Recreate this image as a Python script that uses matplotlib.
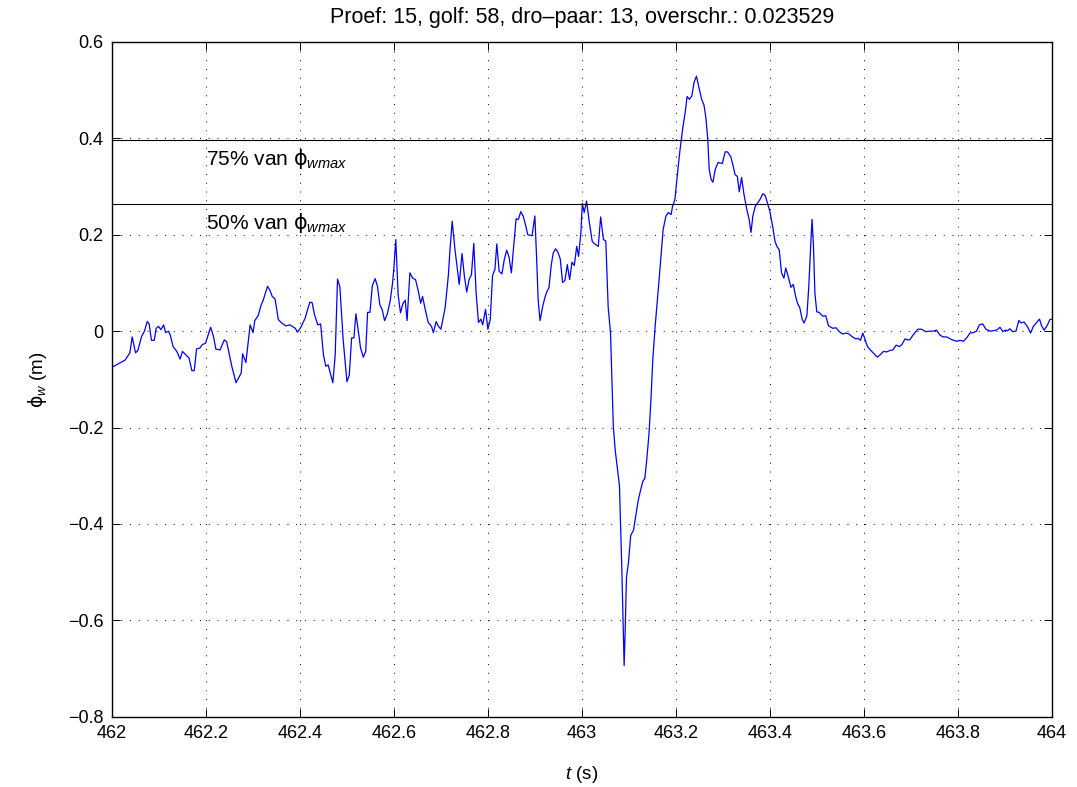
import matplotlib
matplotlib.use('Agg')
import matplotlib.pyplot as plt
import numpy as np

plt.rcParams['font.family'] = ['Liberation Sans', 'DejaVu Sans']
plt.rcParams['mathtext.fontset'] = 'custom'
plt.rcParams['mathtext.rm'] = 'Liberation Sans'
plt.rcParams['mathtext.it'] = 'Liberation Sans:italic'
plt.rcParams['mathtext.bf'] = 'Liberation Sans:bold'
plt.rcParams['mathtext.sf'] = 'DejaVu Sans'
plt.rcParams['mathtext.fallback'] = 'stixsans'
plt.rcParams['axes.unicode_minus'] = True

###########################################################
# measured signal phi_w (m) against time t (s)
t = [462.000, 462.017, 462.028, 462.038, 462.043, 462.050, 462.055, 462.063,
     462.069, 462.075, 462.079, 462.084, 462.090, 462.094, 462.099, 462.104,
     462.110, 462.114, 462.120, 462.124, 462.130, 462.138, 462.145, 462.150,
     462.157, 462.164, 462.170, 462.175, 462.180, 462.187, 462.192, 462.199,
     462.210, 462.216, 462.221, 462.230, 462.239, 462.244, 462.255, 462.264,
     462.275, 462.278, 462.285, 462.294, 462.300, 462.304, 462.311, 462.317,
     462.322, 462.331, 462.336, 462.341, 462.347, 462.354, 462.361, 462.370,
     462.379, 462.390, 462.395, 462.402, 462.411, 462.421, 462.426, 462.431,
     462.438, 462.444, 462.450, 462.455, 462.460, 462.470, 462.475, 462.480,
     462.485, 462.492, 462.500, 462.505, 462.510, 462.515, 462.519, 462.524,
     462.529, 462.535, 462.540, 462.544, 462.549, 462.554, 462.560, 462.565,
     462.570, 462.575, 462.580, 462.586, 462.592, 462.597, 462.600, 462.604,
     462.609, 462.614, 462.619, 462.624, 462.628, 462.634, 462.640, 462.646,
     462.652, 462.657, 462.661, 462.666, 462.673, 462.680, 462.684, 462.690,
     462.694, 462.700, 462.709, 462.716, 462.719, 462.724, 462.730, 462.735,
     462.739, 462.745, 462.750, 462.755, 462.760, 462.765, 462.770, 462.775,
     462.780, 462.785, 462.789, 462.795, 462.800, 462.805, 462.810, 462.815,
     462.819, 462.824, 462.830, 462.835, 462.840, 462.845, 462.850, 462.856,
     462.860, 462.865, 462.870, 462.875, 462.880, 462.885, 462.894, 462.900,
     462.904, 462.907, 462.911, 462.917, 462.922, 462.926, 462.930, 462.935,
     462.939, 462.944, 462.949, 462.954, 462.959, 462.964, 462.969, 462.974,
     462.979, 462.984, 462.989, 462.993, 462.998, 463.001, 463.005, 463.010,
     463.016, 463.022, 463.026, 463.035, 463.040, 463.046, 463.051, 463.056,
     463.061, 463.067, 463.071, 463.076, 463.080, 463.085, 463.090, 463.092,
     463.095, 463.099, 463.104, 463.110, 463.115, 463.120, 463.125, 463.130,
     463.134, 463.138, 463.143, 463.147, 463.151, 463.156, 463.165, 463.173,
     463.179, 463.184, 463.190, 463.193, 463.198, 463.203, 463.209, 463.215,
     463.220, 463.224, 463.229, 463.234, 463.239, 463.244, 463.250, 463.255,
     463.260, 463.264, 463.268, 463.271, 463.275, 463.279, 463.284, 463.290,
     463.299, 463.305, 463.310, 463.317, 463.322, 463.326, 463.331, 463.335,
     463.340, 463.345, 463.351, 463.356, 463.360, 463.364, 463.369, 463.374,
     463.379, 463.385, 463.390, 463.395, 463.400, 463.406, 463.411, 463.415,
     463.420, 463.425, 463.430, 463.434, 463.439, 463.445, 463.450, 463.455,
     463.459, 463.464, 463.469, 463.473, 463.479, 463.483, 463.488, 463.490,
     463.493, 463.496, 463.500, 463.505, 463.513, 463.519, 463.525, 463.534,
     463.541, 463.548, 463.555, 463.562, 463.569, 463.576, 463.583, 463.588,
     463.593, 463.598, 463.603, 463.608, 463.615, 463.622, 463.629, 463.635,
     463.642, 463.649, 463.656, 463.662, 463.669, 463.676, 463.681, 463.688,
     463.693, 463.698, 463.705, 463.715, 463.723, 463.732, 463.741, 463.748,
     463.755, 463.762, 463.769, 463.777, 463.784, 463.791, 463.798, 463.805,
     463.812, 463.819, 463.826, 463.833, 463.840, 463.846, 463.853, 463.860,
     463.869, 463.877, 463.884, 463.890, 463.896, 463.901, 463.906, 463.911,
     463.917, 463.924, 463.930, 463.935, 463.941, 463.948, 463.955, 463.961,
     463.967, 463.974, 463.979, 463.984, 463.991, 463.996, 464.000]

phi = [-0.075, -0.066, -0.060, -0.045, -0.012, -0.045, -0.040, -0.011,
       0.000, 0.020, 0.015, -0.019, -0.019, 0.006, 0.010, 0.003,
       0.013, -0.003, 0.000, -0.008, -0.032, -0.042, -0.058, -0.042,
       -0.049, -0.056, -0.082, -0.082, -0.037, -0.035, -0.028, -0.025,
       0.008, -0.011, -0.037, -0.039, -0.018, -0.022, -0.073, -0.107,
       -0.087, -0.047, -0.065, 0.013, -0.003, 0.022, 0.032, 0.053,
       0.065, 0.093, 0.085, 0.072, 0.067, 0.024, 0.017, 0.011,
       0.013, 0.006, -0.002, 0.008, 0.027, 0.060, 0.059, 0.034,
       0.013, 0.015, -0.049, -0.073, -0.070, -0.107, -0.050, 0.108,
       0.092, -0.018, -0.105, -0.091, -0.014, -0.014, 0.036, 0.003,
       -0.035, -0.054, -0.042, 0.039, 0.039, 0.094, 0.109, 0.093,
       0.055, 0.045, 0.022, 0.036, 0.062, 0.099, 0.131, 0.190,
       0.076, 0.038, 0.057, 0.064, 0.022, 0.121, 0.110, 0.107,
       0.083, 0.058, 0.072, 0.048, 0.018, 0.010, -0.003, 0.020,
       0.011, 0.004, 0.048, 0.117, 0.164, 0.228, 0.169, 0.128,
       0.097, 0.161, 0.114, 0.081, 0.107, 0.117, 0.182, 0.079,
       0.018, 0.025, 0.013, 0.045, 0.004, 0.024, 0.116, 0.128,
       0.181, 0.124, 0.119, 0.149, 0.168, 0.154, 0.121, 0.187,
       0.233, 0.232, 0.248, 0.239, 0.221, 0.200, 0.198, 0.239,
       0.145, 0.065, 0.022, 0.053, 0.072, 0.083, 0.090, 0.138,
       0.162, 0.171, 0.164, 0.150, 0.101, 0.105, 0.138, 0.107,
       0.143, 0.136, 0.176, 0.155, 0.205, 0.265, 0.246, 0.270,
       0.225, 0.187, 0.182, 0.176, 0.237, 0.190, 0.187, 0.050,
       -0.004, -0.198, -0.247, -0.288, -0.320, -0.490, -0.694, -0.628,
       -0.510, -0.482, -0.424, -0.413, -0.382, -0.351, -0.330, -0.311,
       -0.306, -0.268, -0.212, -0.143, -0.059, 0.010, 0.114, 0.211,
       0.239, 0.246, 0.242, 0.259, 0.273, 0.322, 0.377, 0.423,
       0.454, 0.487, 0.481, 0.488, 0.517, 0.529, 0.502, 0.481,
       0.469, 0.443, 0.398, 0.336, 0.315, 0.309, 0.336, 0.350,
       0.348, 0.372, 0.372, 0.362, 0.343, 0.325, 0.321, 0.289,
       0.319, 0.284, 0.253, 0.232, 0.205, 0.239, 0.259, 0.266,
       0.273, 0.285, 0.282, 0.266, 0.249, 0.218, 0.187, 0.176,
       0.169, 0.121, 0.110, 0.131, 0.114, 0.091, 0.097, 0.072,
       0.058, 0.048, 0.024, 0.017, 0.032, 0.093, 0.197, 0.232,
       0.176, 0.079, 0.040, 0.039, 0.031, 0.032, 0.011, 0.006,
       0.007, -0.001, -0.006, -0.004, -0.006, -0.012, -0.016, -0.015,
       -0.019, -0.004, -0.018, -0.032, -0.040, -0.047, -0.054, -0.049,
       -0.042, -0.043, -0.040, -0.039, -0.029, -0.032, -0.028, -0.016,
       -0.018, -0.018, -0.008, 0.004, 0.004, -0.001, 0.000, 0.000,
       0.002, -0.008, -0.012, -0.012, -0.016, -0.019, -0.021, -0.019,
       -0.021, -0.014, -0.004, -0.003, 0.000, 0.013, 0.015, 0.004,
       0.000, 0.001, 0.003, 0.008, -0.001, 0.002, 0.001, 0.005,
       -0.001, 0.000, 0.022, 0.017, 0.019, 0.010, -0.004, 0.010,
       0.017, 0.025, 0.010, 0.002, 0.013, 0.024, 0.025]

fractions = [0.75, 0.5]
frac_labels = ['75%', '50%']

title = 'Proef: 15, golf: 58, dro\u2013paar: 13, overschr.: 0.023529'
xticks = [462, 462.2, 462.4, 462.6, 462.8, 463, 463.2, 463.4, 463.6, 463.8, 464]
yticks = [-0.8, -0.6, -0.4, -0.2, 0, 0.2, 0.4, 0.6]

###########################################################

phi_max = max(phi)

fig = plt.figure(figsize=(10.77, 7.87), dpi=100)
ax = fig.add_axes([112/1077, 1 - 716.7/787, (1051.7 - 112)/1077, (716.7 - 42)/787])

ax.plot(t, phi, color=(0, 0, 1), linewidth=0.9)
for frac, lab in zip(fractions, frac_labels):
    level = frac*phi_max
    ax.axhline(level, color='black', linewidth=0.8)
    ax.text(462.2, level - 0.053, lab + r' van $\mathsf{\phi}_{wmax}$',
            fontsize=15, ha='left', va='baseline')

ax.set_xlim(462, 464)
ax.set_ylim(-0.8, 0.6)
ax.set_xticks(xticks)
ax.set_yticks(yticks)
ax.set_xticklabels(['%g' % v for v in xticks])
ax.set_yticklabels([('%g' % v).replace('-', '\u2212') for v in yticks])
ax.grid(True, color='black', linestyle=(0, (1, 8)), linewidth=0.7)
ax.tick_params(direction='in', length=6, width=0.7, top=True, right=True,
               labelsize=13, pad=6)
for sp in ax.spines.values():
    sp.set_linewidth(1.0)

ax.set_title(title, fontsize=15.5, pad=14)
ax.set_xlabel(r'$t$ (s)', fontsize=13.5, labelpad=16)
ax.set_ylabel(r'$\mathsf{\phi}_w$ (m)', fontsize=13.5, labelpad=14)

plt.savefig('out.png', dpi=100)
